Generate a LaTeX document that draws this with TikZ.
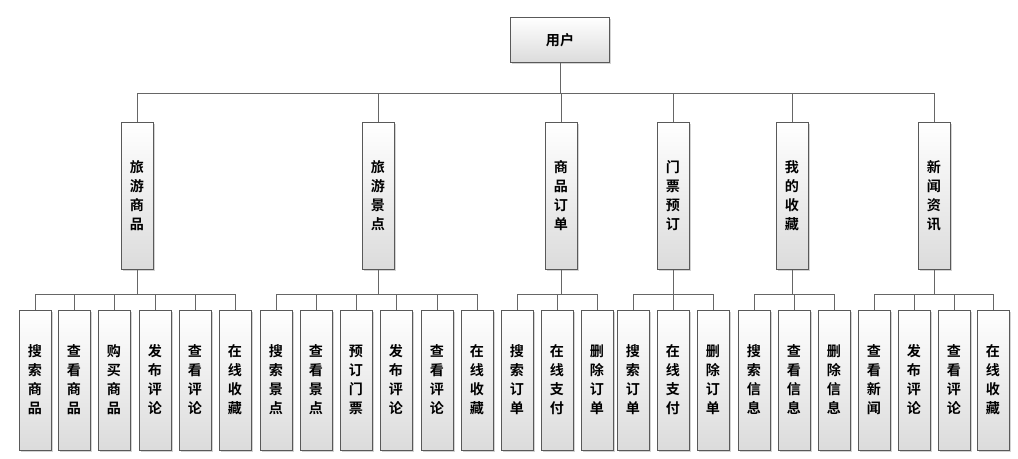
\documentclass[tikz,border=0pt]{standalone}
\usepackage{fontspec}
\newfontfamily\cjk{Noto Sans CJK SC}[BoldFont={Noto Sans CJK SC Bold}]
\usetikzlibrary{shadows}
\begin{document}
\begin{tikzpicture}[x=0.025cm,y=-0.025cm,
  box/.style={draw=black!65, line width=0.7pt, top color=white, bottom color=black!14,
    drop shadow={shadow xshift=1.2pt, shadow yshift=-1.2pt, opacity=0.35},
    inner sep=0pt, align=center, font=\cjk\bfseries\fontsize{10}{13.5}\selectfont},
  root/.style={box, minimum width=99*0.025cm, minimum height=45*0.025cm},
  mid/.style={box, minimum width=32*0.025cm, minimum height=147*0.025cm},
  leaf/.style={box, minimum width=32*0.025cm, minimum height=140*0.025cm},
  wire/.style={draw=black!60, line width=0.6pt}]
\useasboundingbox (0,0) rectangle (1018,459);
% root
\node[root] (user) at (560,40) {用户};
\coordinate (bus) at (560,93);
\draw[wire] (user.south) -- (bus);
% second level
\foreach \n/\x/\t in {m1/137/旅\\游\\商\\品, m2/378/旅\\游\\景\\点, m3/561/商\\品\\订\\单,
    m4/673/门\\票\\预\\订, m5/792/我\\的\\收\\藏, m6/934/新\\闻\\资\\讯}{
  \node[mid] (\n) at (\x,196) {\t};
  \draw[wire] (bus) -| (\n.north);
}
% leaves
\foreach \p/\l/\x/\t in {
    m1/a1/35/搜\\索\\商\\品, m1/a2/74/查\\看\\商\\品, m1/a3/114/购\\买\\商\\品,
    m1/a4/155/发\\布\\评\\论, m1/a5/195/查\\看\\评\\论, m1/a6/235/在\\线\\收\\藏,
    m2/b1/276/搜\\索\\景\\点, m2/b2/316/查\\看\\景\\点, m2/b3/356/预\\订\\门\\票,
    m2/b4/396/发\\布\\评\\论, m2/b5/437/查\\看\\评\\论, m2/b6/477/在\\线\\收\\藏,
    m3/c1/517/搜\\索\\订\\单, m3/c2/557/在\\线\\支\\付, m3/c3/597/删\\除\\订\\单,
    m4/d1/633/搜\\索\\订\\单, m4/d2/673/在\\线\\支\\付, m4/d3/713/删\\除\\订\\单,
    m5/e1/754/搜\\索\\信\\息, m5/e2/794/查\\看\\信\\息, m5/e3/834/删\\除\\信\\息,
    m6/f1/874/查\\看\\新\\闻, m6/f2/914/发\\布\\评\\论, m6/f3/954/查\\看\\评\\论,
    m6/f4/993/在\\线\\收\\藏}{
  \node[leaf] (\l) at (\x,380) {\t};
  \draw[wire] (\p.south) -- ++(0,24) -| (\l.north);
}
\end{tikzpicture}
\end{document}
